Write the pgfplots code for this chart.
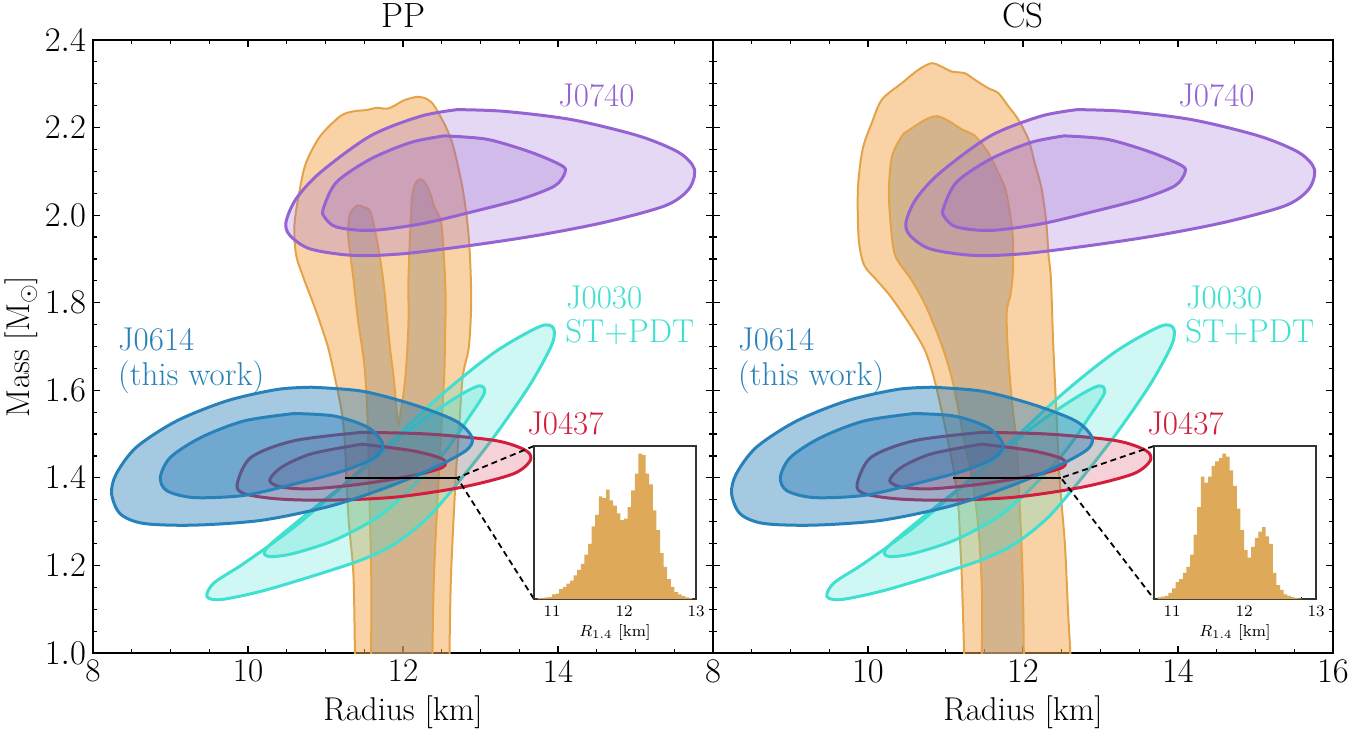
\documentclass[border=0pt]{standalone}
\usepackage{pgfplots}
\pgfplotsset{compat=1.18}
\usepackage{pgfplotstable}
\usetikzlibrary{calc}

\definecolor{orfill}{RGB}{244,168,78}
\definecolor{orin}{RGB}{175,150,117}
\definecolor{oredge}{RGB}{228,163,72}
\definecolor{purp}{RGB}{150,100,210}
\definecolor{cyanc}{RGB}{64,224,208}
\definecolor{bluec}{RGB}{40,130,185}
\definecolor{bluefill}{RGB}{31,119,180}
\definecolor{redc}{RGB}{210,30,60}
\definecolor{histc}{RGB}{222,170,90}

% ---------------- data ----------------
\pgfplotstableread{
x y
11.39 0.90
11.38 1.00
11.36 1.18
11.30 1.30
11.27 1.40
11.25 1.48
11.21 1.55
11.12 1.63
11.03 1.70
10.88 1.78
10.72 1.855
10.62 1.91
10.60 1.98
10.67 2.06
10.75 2.12
10.93 2.18
11.19 2.226
11.36 2.237
11.53 2.240
11.66 2.245
11.79 2.243
11.88 2.249
12.01 2.262
12.18 2.270
12.31 2.265
12.42 2.245
12.62 2.173
12.77 2.06
12.85 1.946
12.88 1.81
12.85 1.70
12.77 1.63
12.72 1.50
12.68 1.40
12.62 1.18
12.60 1.00
12.60 0.90
11.39 0.90
}\ppout

\pgfplotstableread{
x y
11.60 0.90
11.59 1.00
11.59 1.18
11.56 1.40
11.54 1.55
11.50 1.66
11.42 1.76
11.36 1.855
11.32 1.91
11.29 1.96
11.31 2.00
11.36 2.015
11.42 2.022
11.50 2.018
11.58 2.007
11.66 1.946
11.73 1.871
11.77 1.81
11.83 1.70
11.88 1.628
11.92 1.55
11.94 1.522
11.97 1.55
12.03 1.628
12.07 1.75
12.07 1.85
12.09 1.95
12.12 2.045
12.17 2.075
12.23 2.082
12.30 2.07
12.36 2.045
12.40 2.020
12.49 1.984
12.53 1.90
12.55 1.81
12.54 1.70
12.53 1.628
12.46 1.40
12.40 1.18
12.38 1.00
12.38 0.90
11.60 0.90
}\ppin

\pgfplotstableread{
x y
11.25 0.90
11.24 1.00
11.21 1.175
11.19 1.25
11.17 1.326
11.12 1.402
11.04 1.477
10.95 1.553
10.85 1.629
10.74 1.689
10.57 1.742
10.31 1.810
10.12 1.850
9.95 1.886
9.88 1.946
9.87 2.06
9.93 2.15
10.05 2.211
10.18 2.264
10.44 2.302
10.65 2.332
10.82 2.347
10.95 2.339
11.08 2.328
11.25 2.324
11.38 2.309
11.55 2.290
11.68 2.279
11.81 2.249
11.94 2.218
12.07 2.173
12.15 2.120
12.24 2.060
12.30 1.984
12.33 1.908
12.36 1.855
12.39 1.704
12.43 1.553
12.47 1.402
12.54 1.250
12.58 1.099
12.61 1.00
12.62 0.90
11.25 0.90
}\csout

\pgfplotstableread{
x y
11.47 0.90
11.47 1.00
11.47 1.137
11.44 1.250
11.40 1.326
11.34 1.402
11.25 1.477
11.17 1.553
11.08 1.629
10.95 1.704
10.74 1.795
10.55 1.855
10.35 1.908
10.29 1.984
10.27 2.060
10.31 2.135
10.44 2.181
10.52 2.193
10.74 2.218
10.89 2.226
11.04 2.215
11.21 2.196
11.38 2.181
11.55 2.143
11.68 2.097
11.77 2.060
11.83 2.007
11.87 1.946
11.87 1.871
11.84 1.82
11.79 1.780
11.80 1.704
11.83 1.629
11.87 1.553
11.92 1.477
11.94 1.402
11.96 1.326
11.98 1.250
12.00 1.137
12.01 1.00
12.01 0.90
11.47 0.90
}\csin

\pgfplotstableread{
x y
12.70 2.241
13.31 2.237
14.18 2.218
15.04 2.181
15.56 2.143
15.76 2.105
15.69 2.060
15.39 2.022
14.61 1.984
13.74 1.954
12.88 1.931
12.01 1.912
11.36 1.908
10.80 1.923
10.54 1.954
10.49 1.984
10.62 2.037
10.93 2.097
11.58 2.181
12.23 2.226
12.70 2.241
}\purout

\pgfplotstableread{
x y
12.53 2.181
13.09 2.173
13.66 2.143
14.05 2.113
14.09 2.097
13.96 2.067
13.53 2.037
12.88 2.007
12.23 1.980
11.58 1.965
11.14 1.973
10.99 1.995
10.97 2.014
11.14 2.075
11.58 2.128
12.10 2.166
12.53 2.181
}\purin

\pgfplotstableread{
x y
11.25 1.386
11.90 1.492
12.55 1.598
13.20 1.689
13.77 1.746
13.94 1.742
13.92 1.704
13.64 1.613
13.20 1.500
12.77 1.402
12.33 1.311
11.90 1.250
11.47 1.213
10.82 1.175
10.17 1.141
9.65 1.122
9.47 1.129
9.56 1.160
9.95 1.205
10.60 1.288
11.25 1.386
}\cyout

\pgfplotstableread{
x y
11.47 1.417
12.12 1.515
12.68 1.583
12.98 1.610
13.05 1.594
12.85 1.538
12.55 1.462
12.12 1.379
11.68 1.311
11.12 1.258
10.60 1.228
10.30 1.220
10.21 1.228
10.30 1.250
10.82 1.326
11.47 1.417
}\cyin

\pgfplotstableread{
x y
10.82 1.607
11.47 1.598
12.12 1.568
12.68 1.530
12.89 1.492
12.81 1.462
12.33 1.417
11.68 1.371
11.03 1.334
10.17 1.303
9.30 1.292
8.65 1.296
8.35 1.318
8.24 1.364
8.30 1.409
8.56 1.470
9.08 1.530
9.73 1.576
10.38 1.602
10.82 1.607
}\blout

\pgfplotstableread{
x y
10.60 1.547
11.12 1.541
11.55 1.515
11.74 1.477
11.64 1.447
11.25 1.417
10.60 1.386
9.95 1.360
9.30 1.355
8.95 1.371
8.87 1.402
9.00 1.447
9.39 1.492
9.95 1.530
10.60 1.547
}\blin

\pgfplotstableread{
x y
11.47 1.504
12.33 1.500
13.20 1.485
13.59 1.462
13.64 1.439
13.42 1.409
12.77 1.379
11.90 1.356
11.03 1.349
10.38 1.352
9.95 1.364
9.86 1.386
10.04 1.447
10.60 1.485
11.47 1.504
}\rdout

\pgfplotstableread{
x y
11.47 1.477
12.12 1.462
12.51 1.443
12.51 1.424
12.12 1.405
11.47 1.386
10.82 1.375
10.43 1.379
10.28 1.394
10.43 1.424
10.82 1.455
11.47 1.477
}\rdin

\pgfplotstableread{
x h
10.80 0.005
10.85 0.008
10.90 0.010
10.95 0.012
11.00 0.030
11.05 0.035
11.10 0.065
11.15 0.080
11.20 0.100
11.25 0.120
11.30 0.155
11.35 0.190
11.40 0.230
11.45 0.290
11.50 0.360
11.55 0.475
11.60 0.550
11.65 0.670
11.70 0.660
11.75 0.715
11.80 0.645
11.85 0.610
11.90 0.560
11.95 0.515
12.00 0.525
12.05 0.600
12.10 0.710
12.15 0.820
12.20 0.950
12.25 0.940
12.30 0.820
12.35 0.750
12.40 0.580
12.45 0.450
12.50 0.300
12.55 0.210
12.60 0.130
12.65 0.080
12.70 0.045
12.75 0.030
12.80 0.020
12.85 0.010
12.90 0.005
12.95 0
}\histpp

\pgfplotstableread{
x h
10.80 0.010
10.85 0.015
10.90 0.020
10.95 0.040
11.00 0.070
11.05 0.110
11.10 0.130
11.15 0.170
11.20 0.210
11.25 0.290
11.30 0.420
11.35 0.600
11.40 0.800
11.45 0.760
11.50 0.800
11.55 0.870
11.60 0.900
11.65 0.920
11.70 0.950
11.75 0.930
11.80 0.840
11.85 0.740
11.90 0.590
11.95 0.450
12.00 0.320
12.05 0.270
12.10 0.340
12.15 0.400
12.20 0.440
12.25 0.470
12.30 0.410
12.35 0.360
12.40 0.170
12.45 0.090
12.50 0.060
12.55 0.030
12.60 0.020
12.65 0.012
12.70 0.007
12.75 0.004
12.80 0
}\histcs

\tikzset{lab/.style={anchor=base west, inner sep=0pt, font=\fontsize{16.5}{19.5}\selectfont}}

\pgfplotsset{
  mainax/.style={
    scale only axis, width=310pt, height=306.5pt,
    xmin=8, xmax=16, ymin=1, ymax=2.4,
    xtick={8,10,12,14,16},
    ytick={1.0,1.2,1.4,1.6,1.8,2.0,2.2,2.4},
    minor x tick num=3, minor y tick num=3,
    tick align=inside,
    major tick length=3.5pt, minor tick length=2pt,
    every tick/.style={black, line width=0.6pt},
    axis line style={line width=0.8pt},
    tick label style={font=\fontsize{16.5}{19.5}\selectfont},
    label style={font=\fontsize{16.5}{19.5}\selectfont},
    title style={font=\fontsize{17.5}{21}\selectfont, inner sep=0pt, anchor=base, yshift=0.3pt},
    yticklabel style={/pgf/number format/fixed, /pgf/number format/fixed zerofill, /pgf/number format/precision=1},
    xlabel={Radius [km]},
  },
  orout/.style={smooth, fill=orfill, fill opacity=0.5, draw=oredge, line width=1pt},
  orinn/.style={smooth, fill=orin, fill opacity=0.5, draw=oredge, line width=1pt},
  puro/.style={smooth, fill=purp, fill opacity=0.25, draw=purp, line width=1.5pt},
  cyo/.style={smooth, fill=cyanc, fill opacity=0.25, draw=cyanc, line width=1.5pt},
  rdo/.style={smooth, fill=redc, fill opacity=0.2, draw=redc, line width=1.5pt},
  blo/.style={smooth, fill=bluefill, fill opacity=0.4, draw=bluec, line width=1.5pt},
  inset/.style={
    anchor=south west, scale only axis, width=81pt, height=76.5pt,
    xmin=10.75, xmax=13, ymin=0, ymax=1,
    xtick={11,12,13}, minor x tick num=4, ytick=\empty,
    xtick pos=left, tick align=inside,
    major tick length=2pt, minor tick length=1.2pt,
    every tick/.style={black, line width=0.5pt},
    axis background/.style={fill=white},
    axis line style={line width=0.6pt, draw=black!80},
    tick label style={font=\fontsize{8}{9.6}\selectfont},
    label style={font=\fontsize{8}{9.6}\selectfont},
    xlabel={$R_{1.4}$ [km]},
    xlabel style={yshift=3pt},
  },
}

\newcommand{\commoncontours}{%
  \addplot[puro] table {\purout} -- cycle;
  \addplot[puro] table {\purin} -- cycle;
  \addplot[cyo] table {\cyout} -- cycle;
  \addplot[cyo] table {\cyin} -- cycle;
  \addplot[rdo] table {\rdout} -- cycle;
  \addplot[rdo] table {\rdin} -- cycle;
  \addplot[blo] table {\blout} -- cycle;
  \addplot[blo] table {\blin} -- cycle;
}
\newcommand{\commonlabels}{%
  \node[lab, text=purp] at (axis cs:14.0,2.247) {J0740};
  \node[lab, text=cyanc] at (axis cs:14.10,1.786) {J0030};
  \node[lab, text=cyanc] at (axis cs:14.09,1.710) {ST+PDT};
  \node[lab, text=bluec] at (axis cs:8.32,1.690) {J0614};
  \node[lab, text=bluec] at (axis cs:8.32,1.610) {(this work)};
  \node[lab, text=redc] at (axis cs:13.60,1.500) {J0437};
}

\begin{document}
\begin{tikzpicture}
% ---------------- PP ----------------
\begin{axis}[mainax, name=pp, at={(0,0)}, anchor=south west,
  title={PP}, ylabel={Mass [M$_\odot$]}, ylabel shift=-3.5pt,
  xticklabels={8,10,12,14,{}}]
  \addplot[orout] table {\ppout} -- cycle;
  \addplot[orinn] table {\ppin} -- cycle;
  \commoncontours
  \addplot[black, line width=0.9pt] coordinates {(11.25,1.40) (12.70,1.40)};
  \addplot[black, line width=0.9pt, dash pattern=on 3pt off 2pt] coordinates {(13.69,1.4727) (12.70,1.40) (13.69,1.1233)};
  \commonlabels
\end{axis}
% ---------------- CS ----------------
\begin{axis}[mainax, name=cs, at={(pp.south east)}, anchor=south west,
  title={CS}, yticklabels={}]
  \addplot[orout] table {\csout} -- cycle;
  \addplot[orinn] table {\csin} -- cycle;
  \commoncontours
  \addplot[black, line width=0.9pt] coordinates {(11.10,1.40) (12.49,1.40)};
  \addplot[black, line width=0.9pt, dash pattern=on 3pt off 2pt] coordinates {(13.69,1.4727) (12.49,1.40) (13.69,1.1233)};
  \commonlabels
\end{axis}
% ---------------- insets ----------------
\begin{axis}[inset, at={($(pp.south west)+(220.5pt,27pt)$)}]
  \addplot[ybar interval, fill=histc, draw=none] table[x=x, y=h] {\histpp};
\end{axis}
\begin{axis}[inset, at={($(cs.south west)+(220.5pt,27pt)$)}]
  \addplot[ybar interval, fill=histc, draw=none] table[x=x, y=h] {\histcs};
\end{axis}
\pgfresetboundingbox
\path[use as bounding box] ($(pp.south west)+(-46.5pt,-40.5pt)$) rectangle ($(cs.north east)+(19.5pt,20pt)$);
\end{tikzpicture}
\end{document}
